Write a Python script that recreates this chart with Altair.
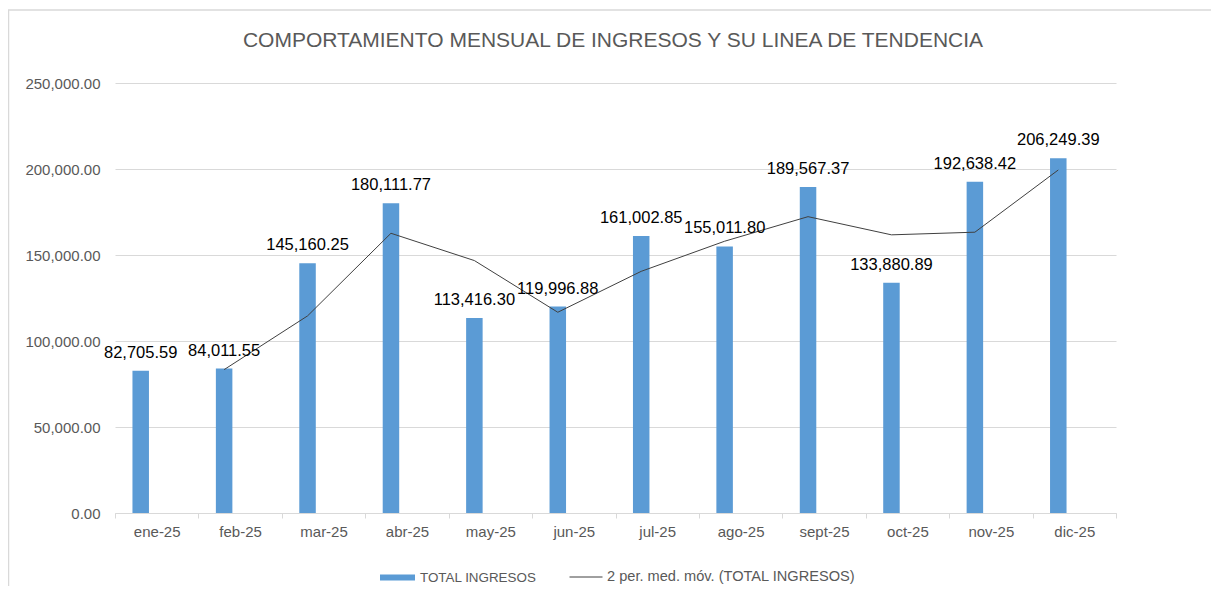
import altair as alt
import pandas as pd

months = ["ene-25", "feb-25", "mar-25", "abr-25", "may-25", "jun-25",
          "jul-25", "ago-25", "sept-25", "oct-25", "nov-25", "dic-25"]
ingresos = [82705.59, 84011.55, 145160.25, 180111.77, 113416.30, 119996.88,
            161002.85, 155011.80, 189567.37, 133880.89, 192638.42, 206249.39]
title_text = "COMPORTAMIENTO MENSUAL DE INGRESOS Y SU LINEA DE TENDENCIA"
bar_name = "TOTAL INGRESOS"
line_name = "2 per. med. móv. (TOTAL INGRESOS)"

df = pd.DataFrame({"mes": months, "ingresos": ingresos, "idx": list(range(len(months))),
                   "serie_bar": [bar_name] * len(months),
                   "serie_line": [line_name] * len(months)})

FONT = "Liberation Sans"
GRAY = "#595959"
BLUE = "#5B9BD5"

x_enc = alt.X("mes:N", sort=months, title=None,
              scale=alt.Scale(paddingInner=0, paddingOuter=0),
              axis=alt.Axis(labelAngle=0, tickBand="extent", tickSize=5, tickColor="#d9d9d9",
                            domainColor="#d9d9d9", labelPadding=6, labelFontSize=15,
                            labelColor=GRAY, labelFont=FONT, grid=False))
y_enc = alt.Y("ingresos:Q", title=None,
              scale=alt.Scale(domain=[0, 250000], nice=False),
              axis=alt.Axis(values=[0, 50000, 100000, 150000, 200000, 250000], format=",.2f",
                            domain=False, ticks=False, labelPadding=15, labelFontSize=15,
                            labelColor=GRAY, labelFont=FONT, gridColor="#d9d9d9"))

base = alt.Chart(df)

bars = base.mark_bar(width=16.5, xOffset=-16).encode(
    x=x_enc, y=y_enc,
    color=alt.Color("serie_bar:N", scale=alt.Scale(domain=[bar_name], range=[BLUE]),
                    legend=alt.Legend(title=None, orient="none", legendX=265, legendY=477,
                                      symbolType="M-1,-0.17H1V0.17H-1Z", symbolSize=1225,
                                      labelFontSize=13.4, labelColor=GRAY, labelFont=FONT,
                                      labelOffset=5, symbolStrokeWidth=0, labelLimit=0)),
)

labels = base.mark_text(xOffset=-16, dy=-13, baseline="alphabetic", fontSize=16.5,
                        font=FONT, color="#000000").encode(
    x=alt.X("mes:N", sort=months), y="ingresos:Q",
    text=alt.Text("ingresos:Q", format=",.2f"))

line = base.transform_window(
    ma="mean(ingresos)", frame=[-1, 0], sort=[alt.SortField("idx")]
).transform_filter("datum.idx >= 1").mark_line(xOffset=-16, strokeWidth=1).encode(
    x=alt.X("mes:N", sort=months), y="ma:Q",
    stroke=alt.Stroke("serie_line:N", scale=alt.Scale(domain=[line_name], range=["#404040"]),
                      legend=alt.Legend(title=None, orient="none", legendX=454, legendY=477,
                                        symbolType="stroke", symbolSize=1089,
                                        symbolStrokeWidth=1, labelLimit=0,
                                        labelFontSize=14.6, labelColor=GRAY, labelFont=FONT,
                                        labelOffset=4)),
)

border = alt.Chart(pd.DataFrame({"b": [1]})).mark_rect(
    fill=None, stroke="#d9d9d9", strokeWidth=1.5).encode(
    x=alt.value(-106.5), x2=alt.value(1300), y=alt.value(-73), y2=alt.value(700))

title = alt.Chart(pd.DataFrame({"t": [title_text]})).mark_text(
    font=FONT, fontSize=21, color=GRAY, baseline="alphabetic", align="center").encode(
    text="t:N", x=alt.value(498), y=alt.value(-36))

chart = alt.layer(border, bars, line, labels, title).properties(
    width=1001, height=430,
    autosize=alt.AutoSizeParams(type="none"),
    padding={"left": 107, "top": 75, "right": 95, "bottom": 73},
).configure_view(stroke=None)

chart.save("out.html", embed_options={"renderer": "svg", "actions": False})
